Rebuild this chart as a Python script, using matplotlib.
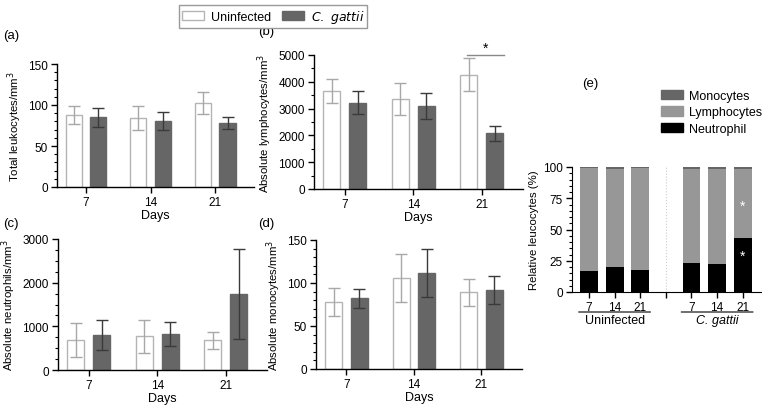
import numpy as np
import matplotlib
matplotlib.use("Agg")
from matplotlib import pyplot as plt
from matplotlib.patches import Patch
from matplotlib.ticker import MultipleLocator

plt.rcParams["font.family"] = ["Liberation Sans", "DejaVu Sans"]
plt.rcParams["font.size"] = 8.5

# %%
# data
days = ["7", "14", "21"]

leuko_uninf = [88, 84, 102]
leuko_uninf_err = [11, 14.5, 13.5]
leuko_gattii = [85, 80, 78]
leuko_gattii_err = [11.5, 11, 7.5]

lymph_uninf = [3650, 3350, 4270]
lymph_uninf_err = [450, 600, 630]
lymph_gattii = [3220, 3100, 2080]
lymph_gattii_err = [430, 470, 280]

neut_uninf = [680, 770, 680]
neut_uninf_err = [390, 385, 200]
neut_gattii = [800, 820, 1750]
neut_gattii_err = [335, 280, 1030]

mono_uninf = [78, 106, 89]
mono_uninf_err = [16, 28, 16]
mono_gattii = [82, 112, 92]
mono_gattii_err = [10.5, 28, 16]

# relative leucocytes (%), uninfected 7/14/21 then C. gattii 7/14/21
rel_neutrophil = [16.5, 20.3, 17.6, 23.2, 22.1, 43.2]
rel_monocytes = [0.6, 1.5, 0.6, 1.2, 1.3, 1.3]
rel_lymphocytes = [100 - n - m for n, m in zip(rel_neutrophil, rel_monocytes)]

WHITE_EDGE = "#b4b4b4"
DARK = "#666666"
LYMPH = "#979797"

W, H = 762, 406


def ax_box(left, top, right, bottom):
    return [left / W, 1 - bottom / H, (right - left) / W, (bottom - top) / H]


def bar_panel(ax, uninf, uninf_err, gattii, gattii_err, ymax, major, minor, ylabel):
    x = np.arange(len(days))
    ax.bar(x - 0.19, uninf, 0.25, color="white", edgecolor=WHITE_EDGE, linewidth=1)
    ax.bar(x + 0.19, gattii, 0.25, color=DARK, edgecolor=DARK, linewidth=1)
    ax.errorbar(x - 0.19, uninf, yerr=uninf_err, fmt="none", ecolor="#a8a8a8", elinewidth=1, capsize=4.5, capthick=1)
    ax.errorbar(x + 0.19, gattii, yerr=gattii_err, fmt="none", ecolor="#3a3a3a", elinewidth=1, capsize=4.5, capthick=1)
    ax.set_xlim(-0.45, 2.6)
    ax.set_ylim(0, ymax)
    ax.set_xticks(x)
    ax.set_xticklabels(days)
    ax.yaxis.set_major_locator(MultipleLocator(major))
    ax.yaxis.set_minor_locator(MultipleLocator(minor))
    ax.set_xlabel("Days", labelpad=1, fontsize=9)
    ax.set_ylabel(ylabel, fontsize=8.2, labelpad=3)
    for side in ["top", "right"]:
        ax.spines[side].set_visible(False)
    for side in ["left", "bottom"]:
        ax.spines[side].set_linewidth(1)
    ax.tick_params(which="major", length=4, width=1, direction="out", labelsize=8.5, pad=2.5)
    ax.tick_params(which="minor", length=2, width=0.8, direction="out")
    ax.tick_params(axis="x", which="minor", length=0)


fig = plt.figure(figsize=(7.62, 4.06), dpi=100)

ax_a = fig.add_axes(ax_box(57, 65, 254, 188))
bar_panel(ax_a, leuko_uninf, leuko_uninf_err, leuko_gattii, leuko_gattii_err, 150, 50, 10,
          "Total leukocytes/mm$^3$")

ax_b = fig.add_axes(ax_box(314, 56, 523, 190))
bar_panel(ax_b, lymph_uninf, lymph_uninf_err, lymph_gattii, lymph_gattii_err, 5000, 1000, 500,
          "Absolute lymphocytes/mm$^3$")
ax_b.plot([1.78, 2.32], [5000, 5000], color="#888888", lw=1, clip_on=False)
ax_b.text(2.05, 5020, "*", ha="center", va="bottom", fontsize=10)

ax_c = fig.add_axes(ax_box(58, 240, 267, 371))
bar_panel(ax_c, neut_uninf, neut_uninf_err, neut_gattii, neut_gattii_err, 3000, 1000, 250,
          "Absolute neutrophils/mm$^3$")

ax_d = fig.add_axes(ax_box(316, 241, 522, 370))
bar_panel(ax_d, mono_uninf, mono_uninf_err, mono_gattii, mono_gattii_err, 150, 50, 10,
          "Absolute monocytes/mm$^3$")

# panel (e): stacked relative counts
ax_e = fig.add_axes(ax_box(572, 168, 762, 293))
pos = np.array([0, 1, 2, 4, 5, 6])
bottom_lymph = np.array(rel_neutrophil)
bottom_mono = bottom_lymph + np.array(rel_lymphocytes)
ax_e.bar(pos, rel_neutrophil, 0.7, color="black")
ax_e.bar(pos, rel_lymphocytes, 0.7, bottom=bottom_lymph, color=LYMPH)
ax_e.bar(pos, rel_monocytes, 0.7, bottom=bottom_mono, color=DARK)
ax_e.axvline(3, color="#cccccc", lw=0.8, ls=":")
ax_e.set_xlim(-0.66, 6.75)
ax_e.set_ylim(0, 100)
ax_e.set_xticks([0, 1, 2, 3, 4, 5, 6])
ax_e.set_xticklabels(days + [""] + days)
ax_e.yaxis.set_major_locator(MultipleLocator(25))
ax_e.yaxis.set_minor_locator(MultipleLocator(5))
ax_e.set_ylabel("Relative leucocytes (%)", fontsize=8.2, labelpad=3)
for side in ["top", "right"]:
    ax_e.spines[side].set_visible(False)
ax_e.tick_params(which="major", length=4, width=1, labelsize=8.5, pad=2.5)
ax_e.tick_params(which="minor", length=2, width=0.8)
ax_e.text(6, 69, "*", color="white", ha="center", va="center", fontsize=10)
ax_e.text(6, 29, "*", color="white", ha="center", va="center", fontsize=10)

# group labels under panel (e)
for x0, x1, label, style in [(-0.4, 2.4, "Uninfected", "normal"), (3.6, 6.4, "C. gattii", "italic")]:
    ax_e.annotate("", xy=(x0, -0.16), xytext=(x1, -0.16), xycoords=("data", "axes fraction"),
                  arrowprops=dict(arrowstyle="-", color="black", lw=0.8, shrinkA=0, shrinkB=0))
    ax_e.text((x0 + x1) / 2, -0.18, label, style=style, ha="center", va="top", fontsize=9,
              transform=ax_e.get_xaxis_transform())

ax_e.legend(handles=[Patch(color=DARK, label="Monocytes"), Patch(color=LYMPH, label="Lymphocytes"),
                     Patch(color="black", label="Neutrophil")],
            loc="lower left", bbox_to_anchor=(655 / W, 1 - 142 / H), bbox_transform=fig.transFigure,
            frameon=False, handlelength=1.7, handleheight=0.75, labelspacing=0.35, handletextpad=0.5,
            borderpad=0, fontsize=9)

# top legend
fig.legend(handles=[Patch(facecolor="white", edgecolor=WHITE_EDGE, label="Uninfected"),
                    Patch(facecolor=DARK, edgecolor=DARK, label="$\\it{C.\\ gattii}$")],
           loc="upper center", bbox_to_anchor=(273 / W, 1 - 6 / H), borderaxespad=0, ncol=2,
           frameon=True, fancybox=False, edgecolor="#999999", framealpha=1, handlelength=1.8,
           handleheight=0.7, columnspacing=0.9, handletextpad=0.5, borderpad=0.25, fontsize=9)

# panel letters
for txt, px, py in [("(a)", 3, 36), ("(b)", 258, 32), ("(c)", 3, 224), ("(d)", 258, 224), ("(e)", 582, 84)]:
    fig.text(px / W, 1 - py / H, txt, ha="left", va="center", fontsize=9.5)

fig.savefig("out.png", dpi=100)
